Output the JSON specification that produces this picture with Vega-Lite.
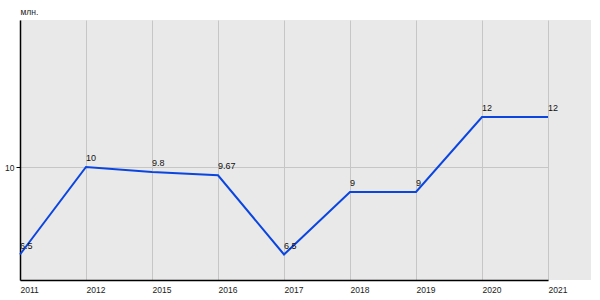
{
  "$schema": "https://vega.github.io/schema/vega-lite/v6.json",
  "width": 571,
  "height": 260,
  "autosize": {"type": "none"},
  "padding": {"left": 20, "top": 20, "right": 9, "bottom": 20},
  "background": "white",
  "config": {
    "view": {"fill": "#e9e9e9", "stroke": null},
    "font": "Liberation Sans"
  },
  "data": {
    "values": [
      {"year": "2011", "value": 6.5, "label": "6.5"},
      {"year": "2012", "value": 10, "label": "10"},
      {"year": "2015", "value": 9.8, "label": "9.8"},
      {"year": "2016", "value": 9.67, "label": "9.67"},
      {"year": "2017", "value": 6.5, "label": "6.5"},
      {"year": "2018", "value": 9, "label": "9"},
      {"year": "2019", "value": 9, "label": "9"},
      {"year": "2020", "value": 12, "label": "12"},
      {"year": "2021", "value": 12, "label": "12"}
    ]
  },
  "encoding": {
    "x": {
      "field": "year",
      "type": "ordinal",
      "sort": null,
      "scale": {"type": "point", "range": [0, 528], "padding": 0},
      "axis": {
        "title": null,
        "labelAngle": 0,
        "labelAlign": "left",
        "labelFontSize": 8.5,
        "labelColor": "#222",
        "labelPadding": 5,
        "ticks": false,
        "domainColor": "#000",
        "domainWidth": 1.5,
        "grid": true,
        "gridColor": "#c6c6c6",
        "gridWidth": 1
      }
    },
    "y": {
      "field": "value",
      "type": "quantitative",
      "scale": {"domain": [5.48, 15.88], "nice": false, "zero": false},
      "axis": {
        "values": [10],
        "title": "млн.",
        "titleAngle": 0,
        "titleAlign": "left",
        "titleBaseline": "alphabetic",
        "titleX": 0,
        "titleY": -6,
        "titleFontSize": 8.5,
        "titleFontWeight": "normal",
        "titleColor": "#222",
        "labelFontSize": 8.5,
        "labelColor": "#222",
        "labelPadding": 2,
        "tickSize": 4,
        "tickColor": "#000",
        "domainColor": "#000",
        "domainWidth": 1.5,
        "grid": true,
        "gridColor": "#c6c6c6"
      }
    }
  },
  "layer": [
    {
      "mark": {"type": "line", "color": "#0a45e0", "strokeWidth": 2}
    },
    {
      "mark": {"type": "text", "align": "left", "baseline": "alphabetic", "dx": 0, "dy": -6, "fontSize": 9, "color": "#111"},
      "encoding": {"text": {"field": "label"}}
    }
  ]
}
